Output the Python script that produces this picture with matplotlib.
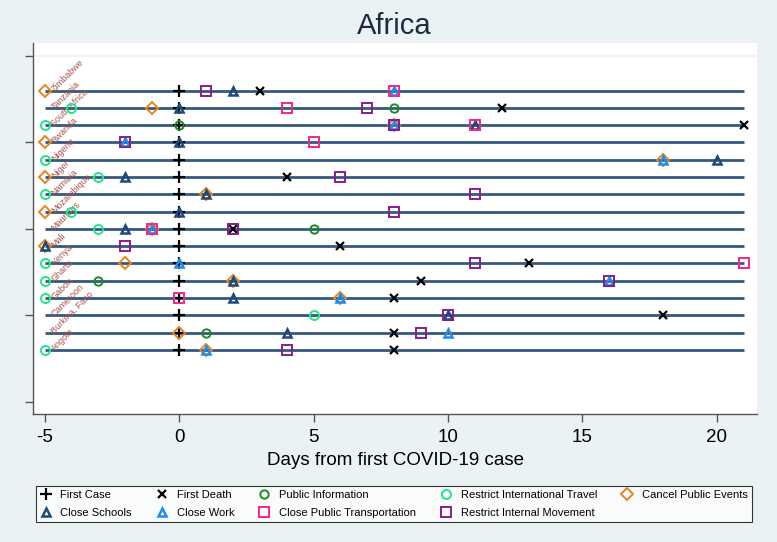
import matplotlib
matplotlib.use("Agg")
import matplotlib.pyplot as plt
from matplotlib.lines import Line2D
import numpy as np

plt.rcParams['font.family'] = ['Liberation Sans', 'DejaVu Sans']
plt.rcParams['axes.unicode_minus'] = False

nan = np.nan

# countries from bottom (y=1) to top (y=16)
countries = ["Angola", "Burkina, Faso", "Cameroon", "Gabon", "Ghana", "Kenya",
             "Mali", "Mauritius", "Mozambique", "Namibia", "Niger", "Nigeria",
             "Rwanda", "South Africa", "Tanzania", "Zimbabwe"]

# days relative to first case, same order as countries
first_case = [0, 0, 0, 0, 0, 0, 0, 0, 0, 0, 0, 0, 0, 0, 0, 0]
first_death = [8, 8, 18, 8, 9, 13, 6, 2, nan, nan, 4, nan, nan, 21, 12, 3]
public_info = [nan, 1, nan, nan, -3, nan, nan, 5, nan, nan, nan, nan, nan, 0, 8, nan]
restrict_intl = [-5, nan, 5, -5, -5, -5, nan, -3, -4, -5, -3, -5, nan, -5, -4, nan]
cancel_events = [1, 0, nan, 6, 2, -2, -5, -1, -5, 1, -5, 18, -5, 8, -1, -5]
close_schools = [nan, 4, 10, 2, 2, nan, -5, -2, 0, 1, -2, 20, 0, 11, 0, 2]
close_work = [1, 10, nan, 6, 16, 0, nan, -1, nan, nan, nan, 18, -2, 8, nan, 8]
close_transport = [nan, nan, nan, 0, nan, 21, nan, -1, nan, nan, nan, nan, 5, 11, 4, 8]
restrict_internal = [4, 9, 10, nan, 16, 11, -2, 2, 8, 11, 6, nan, -2, 8, 7, 1]

line_start, line_end = -5, 21

fig = plt.figure(figsize=(7.77, 5.42), dpi=100, facecolor='#eaf2f3')
ax = fig.add_axes([0.0425, 0.2362, 0.9318, 0.6845])
ax.set_facecolor('white')

y = np.arange(1, len(countries) + 1)

# one horizontal line per country
ax.hlines(y, line_start, line_end, color='#34587f', lw=2, zorder=1)

# event markers
series = [
    ('First Case', first_case, dict(marker='+', color='black', ms=8, mew=1.6)),
    ('First Death', first_death, dict(marker='x', color='black', ms=5.5, mew=1.6)),
    ('Public Information', public_info, dict(marker='o', mfc='none', mec='#1d8a20', ms=6, mew=1.4)),
    ('Restrict International Travel', restrict_intl, dict(marker='o', mfc='none', mec='#1ee884', ms=6.5, mew=1.4)),
    ('Cancel Public Events', cancel_events, dict(marker='D', mfc='none', mec='#e8841c', ms=6, mew=1.4)),
    ('Close Schools', close_schools, dict(marker='^', mfc='none', mec='#1f4a78', ms=6, mew=1.8)),
    ('Close Work', close_work, dict(marker='^', mfc='none', mec='#1e8cf0', ms=6, mew=1.8)),
    ('Close Public Transportation', close_transport, dict(marker='s', mfc='none', mec='#f0288a', ms=6.5, mew=1.4)),
    ('Restrict Internal Movement', restrict_internal, dict(marker='s', mfc='none', mec='#8a1c8e', ms=6.5, mew=1.4)),
]

handles = {}
for i, (name, vals, style) in enumerate(series):
    ax.plot(vals, y, ls='none', zorder=3 + i, **style)
    handles[name] = Line2D([], [], ls='none', **style)

# country labels, rotated
for yy, name in zip(y, countries):
    ax.text(-4.7, yy, name, rotation=45, rotation_mode='anchor', ha='left', va='center',
            fontsize=6.5, color='#a9524a', zorder=2)

ax.set_xlim(-5.43, 21.49)
ax.set_ylim(-2.71, 18.75)
ax.set_xticks([-5, 0, 5, 10, 15, 20])
ax.set_yticks([-2, 3, 8, 13, 18])
ax.set_yticklabels([])
ax.tick_params(axis='x', labelsize=13.5, length=6, width=1, color='#555555', pad=5)
ax.tick_params(axis='y', length=6, width=1, color='#555555')
ax.axhline(18, color='#eaf2f3', lw=1.2, zorder=0)

for s in ['top', 'right']:
    ax.spines[s].set_visible(False)
for s in ['left', 'bottom']:
    ax.spines[s].set_color('#555555')
    ax.spines[s].set_linewidth(1)

ax.set_xlabel('Days from first COVID-19 case', fontsize=13.5, labelpad=4)

fig.text(0.508, 0.952, 'Africa', ha='center', va='center', fontsize=21, color='#1c2b45')

# legend is filled row by row in the original, matplotlib fills by column
order = ['First Case', 'Close Schools', 'First Death', 'Close Work',
         'Public Information', 'Close Public Transportation',
         'Restrict International Travel', 'Restrict Internal Movement',
         'Cancel Public Events']
leg = fig.legend([handles[k] for k in order], order, ncol=5, loc='center',
                 bbox_to_anchor=(0.0463, 0.024, 0.9215, 0.0923), mode='expand',
                 fontsize=8, frameon=True, fancybox=False, edgecolor='black',
                 handlelength=1, handletextpad=0.8, borderaxespad=0, labelspacing=0.7)
leg.get_frame().set_linewidth(0.8)

fig.savefig('out.png', dpi=100, facecolor=fig.get_facecolor())
